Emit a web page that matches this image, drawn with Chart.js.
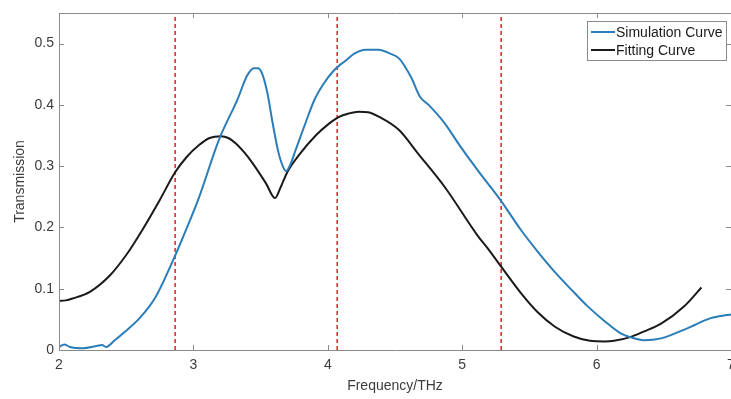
<!DOCTYPE html>
<html>
<head>
<meta charset="utf-8">
<script src="https://cdn.jsdelivr.net/npm/chart.js@4.4.1/dist/chart.umd.min.js"></script>
<style>
  html, body { margin: 0; padding: 0; background: #fff; overflow: hidden; }
  #wrap { width: 731px; height: 399px; position: relative; }
</style>
</head>
<body>
<div id="wrap"><canvas id="chart"></canvas></div>
<script>
// Frequência (THz) e transmissão
const simFreq = [2.00, 2.04, 2.08, 2.18, 2.27, 2.32, 2.35, 2.41, 2.475, 2.60, 2.72, 2.86, 2.945, 3.04, 3.19,
  3.33, 3.40, 3.45, 3.48, 3.51, 3.55, 3.59, 3.63, 3.665, 3.69, 3.72, 3.76, 3.83, 3.90, 3.97, 4.04, 4.10, 4.12,
  4.20, 4.28, 4.378, 4.46, 4.53, 4.62, 4.687, 4.75, 4.87, 4.99, 5.12, 5.19, 5.29, 5.44, 5.56, 5.69, 5.81, 5.93,
  6.06, 6.18, 6.25, 6.35, 6.48, 6.67, 6.85, 6.97, 7.00];
const simVals = [0.005, 0.009, 0.005, 0.003, 0.006, 0.008, 0.005, 0.015, 0.027, 0.052, 0.087, 0.152, 0.196, 0.248, 0.343,
  0.410, 0.448, 0.460, 0.460, 0.452, 0.420, 0.370, 0.325, 0.300, 0.292, 0.302, 0.326, 0.368, 0.408, 0.435, 0.455, 0.467, 0.470,
  0.484, 0.490, 0.490, 0.484, 0.476, 0.445, 0.413, 0.400, 0.370, 0.331, 0.292, 0.272, 0.243, 0.195, 0.161, 0.127, 0.099, 0.072,
  0.047, 0.027, 0.021, 0.016, 0.019, 0.035, 0.052, 0.057, 0.058];

const fitFreq = [2.00, 2.05, 2.10, 2.23, 2.38, 2.50, 2.62, 2.75, 2.864, 2.95, 3.04, 3.12, 3.205, 3.26, 3.316, 3.38,
  3.44, 3.54, 3.607, 3.65, 3.70, 3.785, 3.91, 4.007, 4.08, 4.156, 4.23, 4.30, 4.378, 4.53, 4.67, 4.87, 5.12,
  5.19, 5.29, 5.44, 5.56, 5.69, 5.83, 5.95, 6.06, 6.13, 6.25, 6.35, 6.48, 6.65, 6.78];
const fitVals = [0.080, 0.081, 0.084, 0.095, 0.122, 0.155, 0.196, 0.245, 0.290, 0.315, 0.334, 0.346, 0.349, 0.346, 0.337, 0.322,
  0.305, 0.272, 0.248, 0.266, 0.291, 0.318, 0.350, 0.369, 0.380, 0.386, 0.389, 0.388, 0.381, 0.359, 0.321, 0.266, 0.185,
  0.166, 0.136, 0.092, 0.062, 0.038, 0.022, 0.015, 0.014, 0.015, 0.021, 0.030, 0.043, 0.071, 0.102];

// Linhas verticais tracejadas (vermelhas)
const markerFreq = [2.864, 4.07, 5.29];

const xTicks = [2, 3, 4, 5, 6, 7];
const yTicks = [0, 0.1, 0.2, 0.3, 0.4, 0.5];

const X_MIN = 2, X_MAX = 7, Y_MIN = 0, Y_MAX = 0.55;
const axisColor = '#8a8a8a';
const textColor = '#3c3c3c';
const fontFamily = '"Liberation Sans", Arial, sans-serif';

function toPoints(xs, ys) {
  return xs.map((x, i) => ({ x: x, y: ys[i] }));
}

const datasets = [
  {
    label: 'Simulation Curve',
    data: toPoints(simFreq, simVals),
    borderColor: '#2a7db8',
    borderWidth: 2,
    pointRadius: 0,
    cubicInterpolationMode: 'monotone',
    inLegend: true
  },
  {
    label: 'Fitting Curve',
    data: toPoints(fitFreq, fitVals),
    borderColor: '#1a1a1a',
    borderWidth: 2,
    pointRadius: 0,
    cubicInterpolationMode: 'monotone',
    inLegend: true
  }
];
markerFreq.forEach(f => {
  datasets.push({
    label: 'marker',
    data: [{ x: f, y: Y_MIN }, { x: f, y: Y_MAX }],
    borderColor: '#de2f2f',
    borderWidth: 1.6,
    borderDash: [4, 3],
    pointRadius: 0,
    inLegend: false
  });
});

// Caixa estilo MATLAB com ticks para dentro + legenda interna
const boxPlugin = {
  id: 'matlabBox',
  afterDraw(chart) {
    const { ctx, chartArea: a, scales } = chart;
    ctx.save();
    ctx.strokeStyle = axisColor;
    ctx.lineWidth = 1;
    ctx.beginPath();
    ctx.rect(a.left + 0.5, a.top + 0.5, a.right - a.left, a.bottom - a.top);
    ctx.stroke();

    const tl = 5;
    ctx.beginPath();
    xTicks.forEach(v => {
      const px = Math.round(scales.x.getPixelForValue(v)) + 0.5;
      ctx.moveTo(px, a.bottom); ctx.lineTo(px, a.bottom - tl);
      ctx.moveTo(px, a.top); ctx.lineTo(px, a.top + tl);
    });
    yTicks.forEach(v => {
      const py = Math.round(scales.y.getPixelForValue(v)) + 0.5;
      ctx.moveTo(a.left, py); ctx.lineTo(a.left + tl, py);
      ctx.moveTo(a.right, py); ctx.lineTo(a.right - tl, py);
    });
    ctx.stroke();

    // legenda
    const items = chart.data.datasets.filter(d => d.inLegend);
    const lx = 587, ly = 21, lw = 139, lh = 39;
    ctx.fillStyle = '#fff';
    ctx.fillRect(lx, ly, lw, lh);
    ctx.strokeStyle = '#8a8a8a';
    ctx.strokeRect(lx + 0.5, ly + 0.5, lw, lh);
    ctx.font = '14px ' + fontFamily;
    ctx.textBaseline = 'middle';
    items.forEach((d, i) => {
      const cy = ly + 11 + i * 18;
      ctx.strokeStyle = d.borderColor;
      ctx.lineWidth = 2;
      ctx.beginPath();
      ctx.moveTo(lx + 4, cy); ctx.lineTo(lx + 28, cy);
      ctx.stroke();
      ctx.fillStyle = '#1a1a1a';
      ctx.fillText(d.label, lx + 29, cy + 1);
    });
    ctx.restore();
  }
};

new Chart(document.getElementById('chart').getContext('2d'), {
  type: 'line',
  data: { datasets: datasets },
  options: {
    responsive: true,
    maintainAspectRatio: false,
    animation: false,
    layout: { padding: { top: 13, right: 0, left: 0, bottom: 0 } },
    plugins: { legend: { display: false }, tooltip: { enabled: false } },
    scales: {
      x: {
        type: 'linear',
        min: X_MIN, max: X_MAX,
        grid: { display: false, drawTicks: false },
        border: { display: false },
        ticks: {
          stepSize: 1, includeBounds: false, padding: 7,
          color: textColor, font: { size: 14, family: fontFamily }
        },
        title: {
          display: true, text: 'Frequency/THz', color: textColor,
          font: { size: 14, family: fontFamily }, padding: { top: 4 }
        },
        afterFit(scale) { scale.height = 49; scale.paddingRight = 0; scale.paddingLeft = 0; }
      },
      y: {
        min: Y_MIN, max: Y_MAX,
        grid: { display: false, drawTicks: false },
        border: { display: false },
        ticks: {
          stepSize: 0.1, includeBounds: false, padding: 5,
          color: textColor, font: { size: 14, family: fontFamily }
        },
        title: {
          display: true, text: 'Transmission', color: textColor,
          font: { size: 14, family: fontFamily }, padding: { top: 12, bottom: 0 }
        },
        afterFit(scale) { scale.width = 59; scale.paddingTop = 0; scale.paddingBottom = 0; }
      }
    }
  },
  plugins: [boxPlugin]
});
</script>
</body>
</html>
